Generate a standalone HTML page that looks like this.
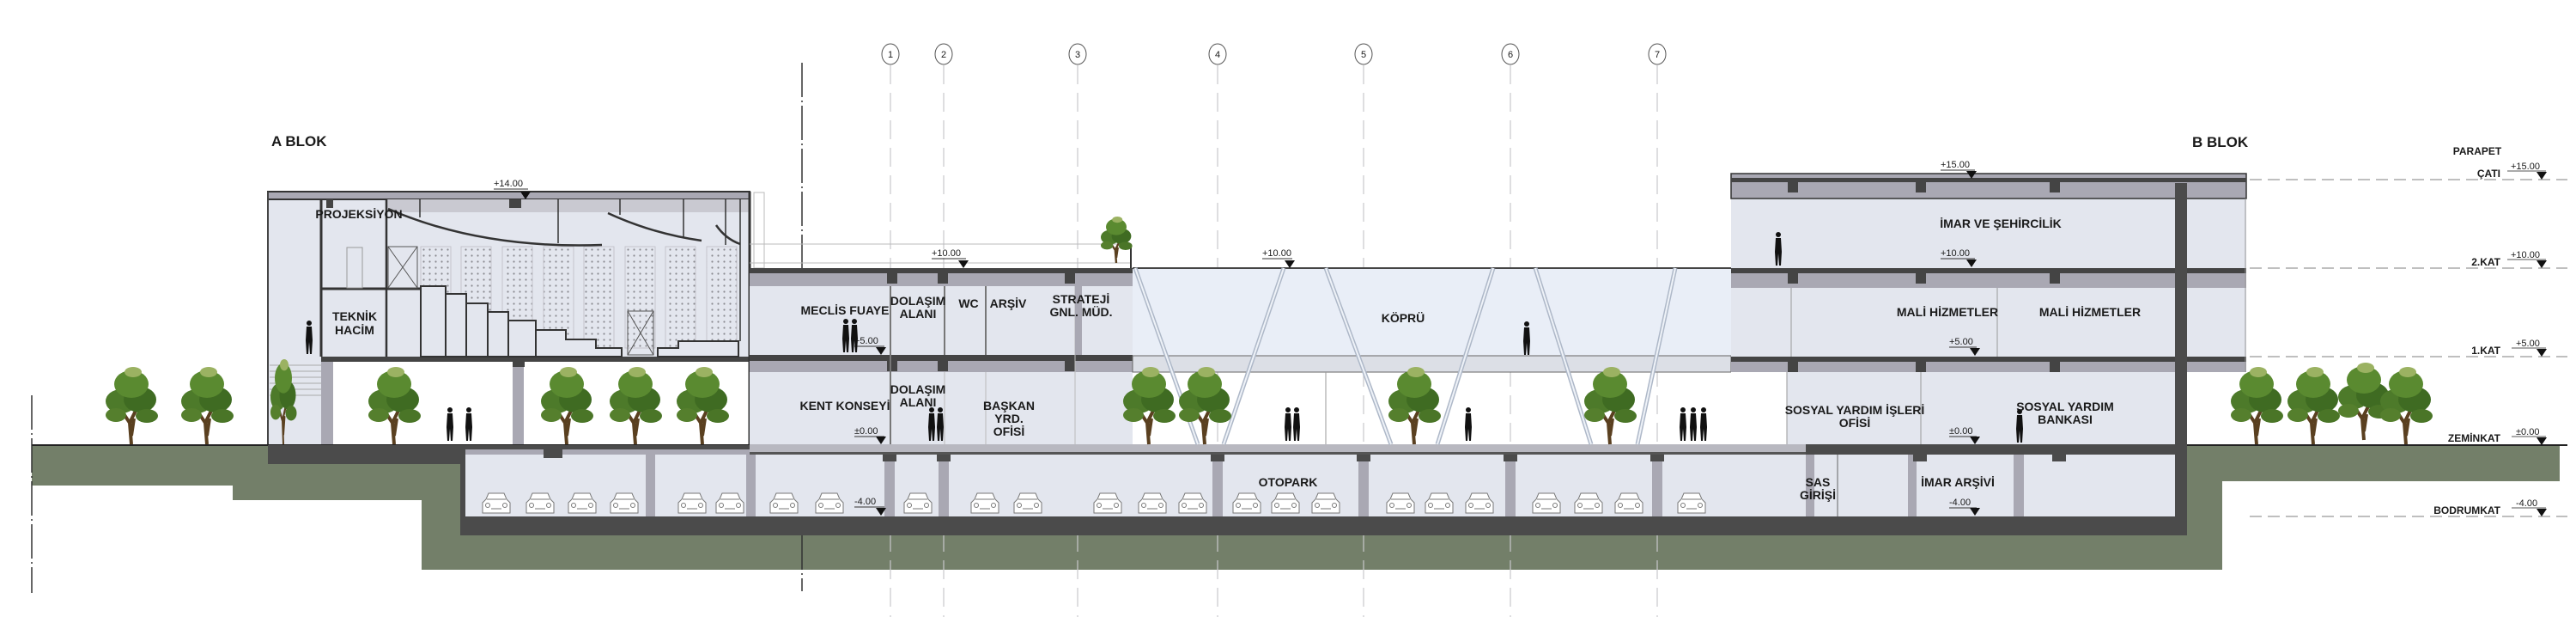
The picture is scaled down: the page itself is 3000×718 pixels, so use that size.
<!DOCTYPE html>
<html><head><meta charset="utf-8"><style>
html,body{margin:0;padding:0;background:#fff;}
svg{display:block;}
text{font-family:"Liberation Sans Narrow","Liberation Sans",sans-serif;font-weight:bold;fill:#1a1a1a;}
.l{font-size:14px;text-anchor:middle;}
.v{font-size:11px;font-weight:normal;}
.lv{font-size:12px;text-anchor:end;}
</style></head><body>
<svg width="3000" height="718" viewBox="0 0 3000 718" xmlns="http://www.w3.org/2000/svg">
<defs>
<pattern id="dots" width="7" height="7" patternUnits="userSpaceOnUse"><circle cx="3.5" cy="3.5" r="1.1" fill="#8a8a90"/></pattern>
<g id="tree">
 <path d="M0 0 L-2 -25 L-12 -40 M-2 -25 L8 -45 M0 -10 L3 -30" stroke="#5a4020" stroke-width="4" fill="none"/>
 <ellipse cx="-12" cy="-50" rx="18" ry="14" fill="#4d7a2a"/>
 <ellipse cx="10" cy="-52" rx="19" ry="15" fill="#3f6b22"/>
 <ellipse cx="0" cy="-70" rx="20" ry="16" fill="#5a8a30"/>
 <ellipse cx="-18" cy="-34" rx="12" ry="8" fill="#557f2d"/>
 <ellipse cx="18" cy="-33" rx="13" ry="8" fill="#4a7527"/>
 <ellipse cx="2" cy="-84" rx="10" ry="6" fill="#9bb262"/>
</g>
<g id="car" fill="#fff" stroke="#777" stroke-width="1">
 <path d="M-16 -2 L-16 -14 L-12 -18 L-9 -25 L9 -25 L12 -18 L16 -14 L16 -2 Z"/>
 <line x1="-11" y1="-18" x2="11" y2="-18"/><circle cx="-10" cy="-11" r="2.5"/><circle cx="10" cy="-11" r="2.5"/>
 <line x1="-6" y1="-7" x2="6" y2="-7"/>
</g>
<g id="man" fill="#111"><circle cx="0" cy="-36" r="3"/><path d="M-3 -32 L3 -32 L4 -16 L3 0 L1 0 L0 -14 L-1 0 L-3 0 L-4 -16Z"/></g>
<g id="tri"><path d="M-6 0 L6 0 L0 9Z" fill="#111"/></g>
</defs>

<!-- ground earth -->
<path d="M37 518 H2981 V560 H2588 V663 H491 V582 H271 V565 H37 Z" fill="#737f69"/>
<line x1="37" y1="518" x2="2990" y2="518" stroke="#222" stroke-width="2"/>

<!-- axes -->
<line x1="37" y1="460" x2="37" y2="690" stroke="#333" stroke-width="1.5" stroke-dasharray="40 4 2 4"/>
<line x1="934" y1="73" x2="934" y2="688" stroke="#333" stroke-width="1.5" stroke-dasharray="40 4 2 4"/>
<g stroke="#c8c8cc" stroke-width="1.2" stroke-dasharray="22 10" fill="none">
<line x1="1037" y1="76" x2="1037" y2="718"/><line x1="1099" y1="76" x2="1099" y2="718"/><line x1="1255" y1="76" x2="1255" y2="718"/><line x1="1418" y1="76" x2="1418" y2="718"/><line x1="1588" y1="76" x2="1588" y2="718"/><line x1="1759" y1="76" x2="1759" y2="718"/><line x1="1930" y1="76" x2="1930" y2="718"/>
</g>
<g fill="#fff" stroke="#555" stroke-width="1">
<ellipse cx="1037" cy="63" rx="10" ry="12"/><ellipse cx="1099" cy="63" rx="10" ry="12"/><ellipse cx="1255" cy="63" rx="10" ry="12"/><ellipse cx="1418" cy="63" rx="10" ry="12"/><ellipse cx="1588" cy="63" rx="10" ry="12"/><ellipse cx="1759" cy="63" rx="10" ry="12"/><ellipse cx="1930" cy="63" rx="10" ry="12"/>
</g>
<g font-size="11" text-anchor="middle">
<text x="1037" y="67" style="font-weight:normal">1</text><text x="1099" y="67" style="font-weight:normal">2</text><text x="1255" y="67" style="font-weight:normal">3</text><text x="1418" y="67" style="font-weight:normal">4</text><text x="1588" y="67" style="font-weight:normal">5</text><text x="1759" y="67" style="font-weight:normal">6</text><text x="1930" y="67" style="font-weight:normal">7</text>
</g>

<!-- basement -->
<rect x="312" y="518" width="230" height="22" fill="#4b4b4b"/>
<rect x="536" y="518" width="2011" height="105" fill="#4b4b4b"/>
<rect x="542" y="529" width="1991" height="72" fill="#e3e6ee"/>
<rect x="542" y="523" width="1560" height="6" fill="#a9a8b3"/>
<g fill="#a9a8b3">
<rect x="752" y="529" width="11" height="72"/><rect x="869" y="529" width="11" height="72"/><rect x="1030" y="529" width="12" height="72"/><rect x="1093" y="529" width="12" height="72"/><rect x="1412" y="529" width="12" height="72"/><rect x="1582" y="529" width="12" height="72"/><rect x="1753" y="529" width="12" height="72"/><rect x="1924" y="529" width="12" height="72"/><rect x="2103" y="529" width="10" height="72"/><rect x="2222" y="529" width="10" height="72"/><rect x="2345" y="529" width="12" height="72"/>
</g>
<g fill="#4b4b4b">
<rect x="633" y="523" width="22" height="10"/><rect x="1028" y="523" width="16" height="14"/><rect x="1091" y="523" width="16" height="14"/><rect x="1410" y="523" width="16" height="14"/><rect x="1580" y="523" width="16" height="14"/><rect x="1751" y="523" width="16" height="14"/><rect x="1922" y="523" width="16" height="14"/><rect x="2228" y="523" width="16" height="14"/><rect x="2390" y="523" width="16" height="14"/>
</g>
<line x1="2140" y1="529" x2="2140" y2="601" stroke="#666"/>
<rect x="2100" y="517" width="447" height="7" fill="#4b4b4b"/>
<g>
<use href="#car" x="578" y="599"/><use href="#car" x="629" y="599"/><use href="#car" x="678" y="599"/><use href="#car" x="727" y="599"/><use href="#car" x="806" y="599"/><use href="#car" x="850" y="599"/><use href="#car" x="913" y="599"/><use href="#car" x="966" y="599"/><use href="#car" x="1069" y="599"/><use href="#car" x="1147" y="599"/><use href="#car" x="1197" y="599"/><use href="#car" x="1290" y="599"/><use href="#car" x="1342" y="599"/><use href="#car" x="1389" y="599"/><use href="#car" x="1452" y="599"/><use href="#car" x="1497" y="599"/><use href="#car" x="1544" y="599"/><use href="#car" x="1631" y="599"/><use href="#car" x="1676" y="599"/><use href="#car" x="1723" y="599"/><use href="#car" x="1801" y="599"/><use href="#car" x="1850" y="599"/><use href="#car" x="1897" y="599"/><use href="#car" x="1970" y="599"/>
</g>

<!-- ground slab under bridge/council -->
<rect x="873" y="517" width="1230" height="9" fill="#b8b8c0"/>
<rect x="873" y="526" width="1230" height="3" fill="#555"/>

<!-- A block -->
<rect x="312" y="223" width="561" height="192" fill="#e3e6ee"/>
<rect x="312" y="223" width="561" height="9" fill="#a9a8b3" stroke="#333" stroke-width="2"/>
<rect x="450" y="232" width="423" height="15" fill="#c9c9d1"/>
<rect x="312" y="415" width="561" height="102" fill="#fff"/>
<rect x="312" y="415" width="64" height="102" fill="#e3e6ee"/>
<g stroke="#aaa" stroke-width="1">
<line x1="314" y1="425" x2="374" y2="425"/><line x1="314" y1="432" x2="374" y2="432"/><line x1="314" y1="439" x2="374" y2="439"/><line x1="314" y1="446" x2="374" y2="446"/><line x1="314" y1="453" x2="374" y2="453"/><line x1="314" y1="460" x2="374" y2="460"/>
</g>
<rect x="374" y="421" width="14" height="96" fill="#a9a8b3"/>
<rect x="597" y="421" width="13" height="96" fill="#a9a8b3"/>
<rect x="374" y="415" width="499" height="6" fill="#444"/>
<rect x="597" y="415" width="14" height="12" fill="#444"/>
<rect x="380" y="232" width="8" height="10" fill="#444"/>
<rect x="593" y="232" width="14" height="10" fill="#444"/>
<!-- panels -->
<g fill="url(#dots)" stroke="#c4c4cc">
<rect x="490" y="287" width="35" height="118"/><rect x="537" y="287" width="35" height="118"/><rect x="585" y="287" width="35" height="118"/><rect x="633" y="287" width="35" height="118"/><rect x="680" y="287" width="35" height="118"/><rect x="728" y="287" width="35" height="118"/><rect x="775" y="287" width="35" height="118"/><rect x="823" y="287" width="35" height="118"/>
</g>
<line x1="374" y1="232" x2="374" y2="415" stroke="#333" stroke-width="3"/>
<line x1="450" y1="232" x2="450" y2="415" stroke="#333" stroke-width="2.5"/>
<line x1="374" y1="336" x2="490" y2="336" stroke="#333" stroke-width="3"/>
<line x1="873" y1="223" x2="873" y2="517" stroke="#333" stroke-width="3"/>
<line x1="312" y1="223" x2="312" y2="517" stroke="#444" stroke-width="2"/>
<rect x="878" y="224" width="12" height="88" fill="none" stroke="#bbb"/>
<g fill="none" stroke="#555"><rect x="452" y="287" width="34" height="48"/><path d="M452 287 L486 335 M486 287 L452 335"/><rect x="731" y="362" width="30" height="51"/><path d="M731 362 L761 413 M761 362 L731 413"/><rect x="404" y="288" width="18" height="47" stroke="#999"/></g>
<!-- steps -->
<path d="M490 333 L519 333 L519 342 L543 342 L543 353 L568 353 L568 363 L592 363 L592 373 L624 373 L624 384 L659 384 L659 395 L694 395 L694 405 L724 405 L724 415 L490 415 Z" fill="#e3e6ee" stroke="#333" stroke-width="2"/>
<g stroke="#333" stroke-width="2"><line x1="519" y1="342" x2="519" y2="415"/><line x1="543" y1="353" x2="543" y2="415"/><line x1="568" y1="363" x2="568" y2="415"/><line x1="592" y1="373" x2="592" y2="415"/><line x1="624" y1="384" x2="624" y2="415"/></g>
<path d="M766 415 L766 405 L790 405 L790 397 L860 397 L860 415 Z" fill="#e3e6ee" stroke="#333" stroke-width="2"/>
<!-- ceiling -->
<g fill="none" stroke="#333" stroke-width="2.5">
<path d="M452 243 Q 560 290 701 285"/><path d="M708 248 Q 760 272 817 280"/><path d="M834 262 Q 845 278 862 284"/>
</g>
<g stroke="#333" stroke-width="1.5"><line x1="489" y1="232" x2="489" y2="253"/><line x1="650" y1="232" x2="650" y2="283"/><line x1="722" y1="232" x2="722" y2="250"/><line x1="796" y1="232" x2="796" y2="277"/><line x1="845" y1="232" x2="845" y2="285"/><line x1="862" y1="232" x2="862" y2="397"/></g>
<text x="418" y="254" class="l">PROJEKSİYON</text>
<text x="413" y="373" class="l">TEKNİK</text><text x="413" y="389" class="l">HACİM</text>
<text x="316" y="170" font-size="17">A BLOK</text>
<text x="575" y="217" class="v">+14.00</text><line x1="575" y1="220" x2="615" y2="220" stroke="#333"/><use href="#tri" x="612" y="223"/>
<use href="#man" x="360" y="412"/>
<use href="#man" x="524" y="513"/><use href="#man" x="546" y="513"/>

<!-- middle block -->
<rect x="873" y="312" width="446" height="205" fill="#e3e6ee"/>
<rect x="873" y="312" width="446" height="6" fill="#444"/>
<rect x="873" y="318" width="446" height="15" fill="#a9a8b3"/>
<rect x="873" y="413" width="446" height="7" fill="#444"/>
<rect x="873" y="420" width="446" height="13" fill="#a9a8b3"/>
<line x1="873" y1="284" x2="1318" y2="284" stroke="#bbb"/>
<line x1="873" y1="306" x2="1318" y2="306" stroke="#bbb"/>
<line x1="1317" y1="285" x2="1317" y2="312" stroke="#333" stroke-width="2"/>
<g fill="#444"><rect x="1033" y="318" width="12" height="12"/><rect x="1092" y="318" width="12" height="12"/><rect x="1240" y="318" width="12" height="12"/><rect x="1033" y="420" width="12" height="12"/><rect x="1092" y="420" width="12" height="12"/><rect x="1240" y="420" width="12" height="12"/></g>
<g stroke="#777" stroke-width="2"><line x1="1037" y1="333" x2="1037" y2="517"/><line x1="1100" y1="333" x2="1100" y2="413"/><line x1="1148" y1="333" x2="1148" y2="413"/></g>
<g stroke="#bbb"><line x1="1100" y1="433" x2="1100" y2="517"/><line x1="1148" y1="433" x2="1148" y2="517"/><line x1="1252" y1="333" x2="1252" y2="517"/></g>
<rect x="1252" y="333" width="8" height="80" fill="#a9a8b3"/>
<g transform="translate(1300 306) scale(0.6)"><use href="#tree"/></g>
<text x="984" y="366" class="l">MECLİS FUAYE</text>
<text x="1069" y="355" class="l">DOLAŞIM</text><text x="1069" y="370" class="l">ALANI</text>
<text x="1128" y="358" class="l">WC</text>
<text x="1174" y="358" class="l">ARŞİV</text>
<text x="1259" y="353" class="l">STRATEJİ</text><text x="1259" y="368" class="l">GNL. MÜD.</text>
<text x="984" y="477" class="l">KENT KONSEYİ</text>
<text x="1069" y="458" class="l">DOLAŞIM</text><text x="1069" y="473" class="l">ALANI</text>
<text x="1175" y="477" class="l">BAŞKAN</text><text x="1175" y="492" class="l">YRD.</text><text x="1175" y="507" class="l">OFİSİ</text>
<text x="1085" y="298" class="v">+10.00</text><line x1="1085" y1="301" x2="1125" y2="301" stroke="#333"/><use href="#tri" x="1122" y="303"/>
<text x="995" y="400" class="v">+5.00</text><line x1="995" y1="403" x2="1030" y2="403" stroke="#333"/><use href="#tri" x="1026" y="404"/>
<text x="995" y="505" class="v">±0.00</text><line x1="995" y1="508" x2="1030" y2="508" stroke="#333"/><use href="#tri" x="1026" y="508"/>
<text x="995" y="587" class="v">-4.00</text><line x1="995" y1="590" x2="1030" y2="590" stroke="#333"/><use href="#tri" x="1026" y="591"/>
<use href="#man" x="985" y="410"/><use href="#man" x="995" y="410"/>
<use href="#man" x="1085" y="513"/><use href="#man" x="1095" y="513"/>

<!-- bridge -->
<rect x="1319" y="312" width="697" height="103" fill="#e9eef7"/>
<line x1="1319" y1="312" x2="2016" y2="312" stroke="#444" stroke-width="2"/>
<rect x="1319" y="414" width="697" height="19" fill="#dcdfe6" stroke="#666" stroke-width="1"/>
<line x1="1544" y1="433" x2="1544" y2="517" stroke="#999"/>
<g stroke="#aeb8c8" stroke-width="5" fill="none">
<line x1="1322" y1="312" x2="1395" y2="517"/><line x1="1495" y1="312" x2="1425" y2="517"/><line x1="1544" y1="312" x2="1620" y2="517"/><line x1="1739" y1="312" x2="1674" y2="517"/><line x1="1788" y1="312" x2="1853" y2="517"/><line x1="1951" y1="312" x2="1907" y2="517"/>
</g>
<g stroke="#eef2f8" stroke-width="2" fill="none">
<line x1="1322" y1="312" x2="1395" y2="517"/><line x1="1495" y1="312" x2="1425" y2="517"/><line x1="1544" y1="312" x2="1620" y2="517"/><line x1="1739" y1="312" x2="1674" y2="517"/><line x1="1788" y1="312" x2="1853" y2="517"/><line x1="1951" y1="312" x2="1907" y2="517"/>
</g>
<text x="1634" y="375" class="l">KÖPRÜ</text>
<text x="1470" y="298" class="v">+10.00</text><line x1="1470" y1="301" x2="1505" y2="301" stroke="#333"/><use href="#tri" x="1502" y="303"/>
<use href="#man" x="1778" y="413"/>
<use href="#man" x="1500" y="513"/><use href="#man" x="1510" y="513"/>
<use href="#man" x="1710" y="513"/>
<use href="#man" x="1960" y="513"/><use href="#man" x="1972" y="513"/><use href="#man" x="1984" y="513"/>
<text x="1500" y="566" class="l">OTOPARK</text>

<!-- B block -->
<rect x="2016" y="202" width="600" height="315" fill="#e3e6ee"/>
<rect x="2016" y="433" width="65" height="84" fill="#fff"/>
<rect x="2547" y="433" width="69" height="84" fill="#fff"/>
<rect x="2016" y="202" width="600" height="29" fill="#a9a8b3" stroke="#333" stroke-width="1.5"/>
<rect x="2016" y="207" width="600" height="5" fill="#444"/>
<rect x="2016" y="312" width="600" height="6" fill="#444"/><rect x="2016" y="318" width="600" height="17" fill="#a9a8b3"/>
<rect x="2016" y="415" width="600" height="6" fill="#444"/><rect x="2016" y="421" width="600" height="12" fill="#a9a8b3"/>
<g fill="#444"><rect x="2082" y="212" width="12" height="12"/><rect x="2231" y="212" width="12" height="12"/><rect x="2387" y="212" width="12" height="12"/><rect x="2082" y="318" width="12" height="12"/><rect x="2231" y="318" width="12" height="12"/><rect x="2387" y="318" width="12" height="12"/><rect x="2082" y="421" width="12" height="12"/><rect x="2231" y="421" width="12" height="12"/><rect x="2387" y="421" width="12" height="12"/></g>
<rect x="2533" y="213" width="14" height="410" fill="#4b4b4b"/>
<g stroke="#999"><line x1="2086" y1="335" x2="2086" y2="415"/><line x1="2326" y1="335" x2="2326" y2="415"/><line x1="2081" y1="433" x2="2081" y2="517"/><line x1="2237" y1="433" x2="2237" y2="517"/><line x1="2615" y1="231" x2="2615" y2="433"/></g>
<text x="2330" y="265" class="l">İMAR VE ŞEHİRCİLİK</text>
<text x="2268" y="368" class="l">MALİ HİZMETLER</text><text x="2434" y="368" class="l">MALİ HİZMETLER</text>
<text x="2160" y="482" class="l">SOSYAL YARDIM İŞLERİ</text><text x="2160" y="497" class="l">OFİSİ</text>
<text x="2405" y="478" class="l">SOSYAL YARDIM</text><text x="2405" y="493" class="l">BANKASI</text>
<text x="2117" y="566" class="l">SAS</text><text x="2117" y="581" class="l">GİRİŞİ</text>
<text x="2280" y="566" class="l">İMAR ARŞİVİ</text>
<text x="2260" y="195" class="v">+15.00</text><line x1="2260" y1="198" x2="2300" y2="198" stroke="#333"/><use href="#tri" x="2296" y="199"/>
<text x="2260" y="298" class="v">+10.00</text><line x1="2260" y1="301" x2="2300" y2="301" stroke="#333"/><use href="#tri" x="2296" y="302"/>
<text x="2270" y="401" class="v">+5.00</text><line x1="2270" y1="404" x2="2302" y2="404" stroke="#333"/><use href="#tri" x="2300" y="405"/>
<text x="2270" y="505" class="v">±0.00</text><line x1="2270" y1="508" x2="2302" y2="508" stroke="#333"/><use href="#tri" x="2300" y="508"/>
<text x="2270" y="588" class="v">-4.00</text><line x1="2270" y1="591" x2="2302" y2="591" stroke="#333"/><use href="#tri" x="2300" y="591"/>
<use href="#man" x="2071" y="309"/><use href="#man" x="2352" y="515"/>
<text x="2553" y="171" font-size="17">B BLOK</text>

<!-- right levels -->
<g stroke="#999" stroke-dasharray="14 7" stroke-width="1.2">
<line x1="2620" y1="209" x2="2990" y2="209"/><line x1="2620" y1="312" x2="2990" y2="312"/><line x1="2620" y1="415" x2="2990" y2="415"/><line x1="2620" y1="601" x2="2990" y2="601"/>
</g>
<text x="2885" y="180" font-size="12" text-anchor="middle">PARAPET</text>
<text x="2912" y="206" class="lv">ÇATI</text>
<text x="2912" y="309" class="lv">2.KAT</text>
<text x="2912" y="412" class="lv">1.KAT</text>
<text x="2912" y="514" class="lv">ZEMİNKAT</text>
<text x="2912" y="598" class="lv">BODRUMKAT</text>
<text x="2924" y="197" class="v">+15.00</text><text x="2924" y="300" class="v">+10.00</text><text x="2930" y="403" class="v">+5.00</text><text x="2930" y="506" class="v">±0.00</text><text x="2930" y="589" class="v">-4.00</text>
<g stroke="#555"><line x1="2920" y1="199" x2="2965" y2="199"/><line x1="2920" y1="302" x2="2965" y2="302"/><line x1="2925" y1="405" x2="2965" y2="405"/><line x1="2925" y1="508" x2="2965" y2="508"/><line x1="2925" y1="591" x2="2965" y2="591"/></g>
<use href="#tri" x="2960" y="200"/><use href="#tri" x="2960" y="303"/><use href="#tri" x="2960" y="406"/><use href="#tri" x="2960" y="509"/><use href="#tri" x="2960" y="592"/>

<!-- trees -->
<use href="#tree" x="153" y="517"/><use href="#tree" x="241" y="517"/>
<g transform="translate(330 517) scale(0.5 1.1)"><use href="#tree"/></g>
<use href="#tree" x="459" y="517"/><use href="#tree" x="660" y="517"/><use href="#tree" x="740" y="517"/><use href="#tree" x="818" y="517"/>
<use href="#tree" x="1338" y="517"/><use href="#tree" x="1403" y="517"/><use href="#tree" x="1647" y="517"/><use href="#tree" x="1875" y="517"/>
<use href="#tree" x="2628" y="517"/><use href="#tree" x="2694" y="517"/><use href="#tree" x="2753" y="512"/><use href="#tree" x="2802" y="517"/>
</svg>
</body></html>
